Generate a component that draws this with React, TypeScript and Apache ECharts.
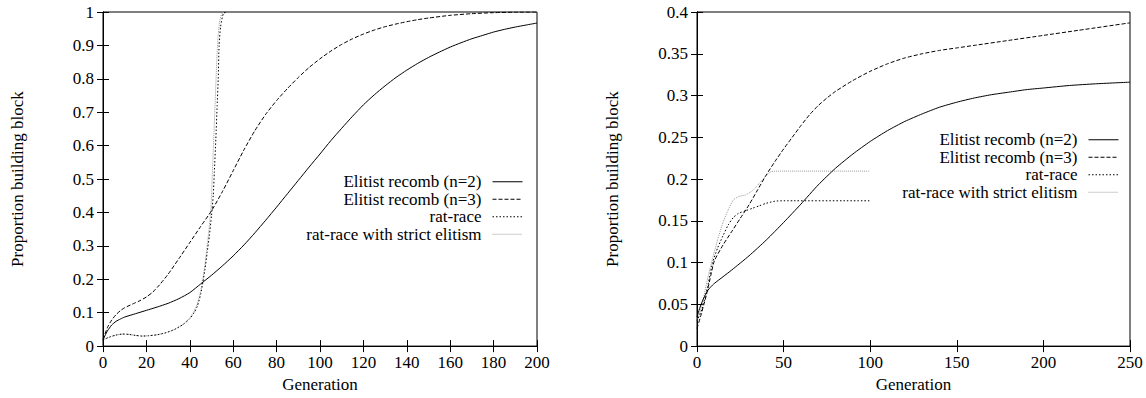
import React, { useEffect, useRef } from "react";
import * as echarts from "echarts";

type Pt = [number, number];

const seriesNames = [
  "Elitist recomb (n=2)",
  "Elitist recomb (n=3)",
  "rat-race",
  "rat-race with strict elitism",
];

const xTitle = "Generation";
const yTitle = "Proportion building block";

// Left panel axes
const leftXMax = 200;
const leftXStep = 20;
const leftYMax = 1;
const leftYStep = 0.1;

// Right panel axes
const rightXMax = 250;
const rightXStep = 50;
const rightYMax = 0.4;
const rightYStep = 0.05;

// Left panel data
const leftN2: Pt[] = [
  [0, 0.019], [2, 0.045], [4, 0.063], [6, 0.074], [8, 0.081], [10, 0.087],
  [15, 0.097], [20, 0.107], [25, 0.117], [30, 0.128], [35, 0.142], [40, 0.16],
  [45, 0.186], [50, 0.212], [55, 0.24], [60, 0.27], [65, 0.303], [70, 0.339],
  [75, 0.377], [80, 0.416], [85, 0.456], [90, 0.496], [95, 0.536], [100, 0.575],
  [105, 0.615], [110, 0.652], [115, 0.688], [120, 0.722], [125, 0.752],
  [130, 0.779], [135, 0.804], [140, 0.826], [145, 0.846], [150, 0.864],
  [155, 0.88], [160, 0.895], [165, 0.908], [170, 0.92], [175, 0.93],
  [180, 0.94], [185, 0.948], [190, 0.955], [195, 0.961], [200, 0.967],
];
const leftN3: Pt[] = [
  [0, 0.019], [2, 0.055], [4, 0.078], [6, 0.094], [8, 0.106], [10, 0.115],
  [14, 0.127], [17, 0.136], [20, 0.147], [23, 0.162], [26, 0.183], [30, 0.215],
  [35, 0.262], [40, 0.31], [45, 0.358], [50, 0.405], [55, 0.462], [60, 0.525],
  [65, 0.588], [70, 0.645], [75, 0.694], [80, 0.735], [85, 0.771], [90, 0.804],
  [95, 0.834], [100, 0.86], [105, 0.883], [110, 0.903], [115, 0.92],
  [120, 0.934], [125, 0.946], [130, 0.956], [135, 0.964], [140, 0.971],
  [145, 0.977], [150, 0.982], [160, 0.99], [170, 0.995], [180, 0.998],
  [190, 0.9995], [200, 1.0],
];
const leftRat: Pt[] = [
  [0, 0.019], [3, 0.027], [6, 0.033], [9, 0.036], [12, 0.035], [15, 0.032],
  [18, 0.03], [21, 0.031], [25, 0.034], [29, 0.04], [33, 0.05], [37, 0.065],
  [40, 0.082], [42, 0.1], [43.5, 0.12], [45, 0.155], [46, 0.19], [47, 0.23],
  [48, 0.28], [49, 0.33], [50, 0.39], [50.8, 0.45], [51.3, 0.52], [52, 0.62],
  [52.6, 0.72], [53.1, 0.8], [53.5, 0.9], [54.2, 0.957], [55.5, 0.996], [57, 1],
];
const leftStrict: Pt[] = [
  [0, 0.019], [3, 0.027], [6, 0.033], [9, 0.036], [12, 0.035], [15, 0.032],
  [18, 0.03], [21, 0.031], [25, 0.034], [29, 0.04], [33, 0.05], [37, 0.066],
  [40, 0.085], [42, 0.105], [43.5, 0.128], [45, 0.165], [46, 0.2], [47, 0.245],
  [48, 0.3], [49, 0.36], [49.8, 0.42], [50.3, 0.5], [50.9, 0.6], [51.5, 0.7],
  [52.1, 0.8], [52.6, 0.88], [53.2, 0.94], [54, 0.98], [55, 0.997], [56.5, 1],
];

// Right panel data
const rightN2: Pt[] = [
  [0, 0.035], [2, 0.048], [4, 0.058], [6, 0.066], [8, 0.071], [10, 0.075],
  [15, 0.083], [20, 0.091], [30, 0.108], [40, 0.127], [50, 0.148], [60, 0.17],
  [70, 0.193], [80, 0.213], [90, 0.23], [100, 0.245], [110, 0.258],
  [120, 0.269], [130, 0.278], [140, 0.286], [150, 0.292], [160, 0.297],
  [170, 0.301], [180, 0.304], [190, 0.307], [200, 0.309], [215, 0.312],
  [230, 0.314], [250, 0.316],
];
const rightN3: Pt[] = [
  [0, 0.021], [2, 0.035], [4, 0.05], [6, 0.066], [8, 0.085], [10, 0.102],
  [15, 0.121], [20, 0.137], [25, 0.153], [30, 0.169], [35, 0.187], [40, 0.205],
  [45, 0.221], [50, 0.236], [55, 0.25], [60, 0.264], [65, 0.277], [70, 0.288],
  [75, 0.297], [80, 0.305], [90, 0.318], [100, 0.329], [110, 0.338],
  [120, 0.345], [130, 0.35], [140, 0.354], [150, 0.357], [160, 0.36],
  [180, 0.366], [200, 0.372], [220, 0.378], [250, 0.387],
];
const rightRat: Pt[] = [
  [0, 0.03], [3, 0.045], [6, 0.07], [9, 0.1], [12, 0.118], [15, 0.132],
  [18, 0.145], [21, 0.154], [24, 0.159], [28, 0.162], [32, 0.165], [36, 0.168],
  [40, 0.171], [45, 0.1735], [50, 0.174], [100, 0.174],
];
const rightStrict: Pt[] = [
  [0, 0.03], [3, 0.05], [6, 0.08], [9, 0.105], [12, 0.128], [15, 0.148],
  [18, 0.163], [21, 0.175], [24, 0.179], [28, 0.181], [32, 0.186], [36, 0.195],
  [40, 0.204], [43, 0.209], [50, 0.2095], [100, 0.2095],
];

const FONT = "'Liberation Serif'";
const FS = 17;

const lineStyles: any[] = [
  { color: "#000", width: 1, type: "solid" },
  { color: "#000", width: 1, type: [4, 2] },
  { color: "#000", width: 1, type: [1.5, 2] },
  { color: "#9a9a9a", width: 1, type: [1, 1] },
];

export default function App() {
  const ref = useRef<HTMLDivElement>(null);
  useEffect(() => {
    if (!ref.current) return;
    const chart = echarts.init(ref.current, undefined, { renderer: "svg" });

    const labelStyle = { color: "#000", fontFamily: FONT, fontSize: FS };
    const mkX = (grid: number, max: number, step: number, top: boolean): any => ({
      type: "value",
      gridIndex: grid,
      position: top ? "top" : "bottom",
      min: 0,
      max,
      interval: step,
      name: top ? "" : xTitle,
      nameLocation: "middle",
      nameGap: 26,
      nameTextStyle: labelStyle,
      axisLine: { show: true, lineStyle: { color: "#000", width: 1 } },
      axisTick: { show: true, inside: true, length: 6, lineStyle: { color: "#000" } },
      axisLabel: { show: !top, margin: 8, ...labelStyle },
      splitLine: { show: false },
    });
    const mkY = (grid: number, max: number, step: number, right: boolean, gap: number): any => ({
      type: "value",
      gridIndex: grid,
      position: right ? "right" : "left",
      min: 0,
      max,
      interval: step,
      name: right ? "" : yTitle,
      nameLocation: "middle",
      nameRotate: 90,
      nameGap: gap,
      nameTextStyle: labelStyle,
      axisLine: { show: true, lineStyle: { color: "#000", width: 1 } },
      axisTick: { show: true, inside: true, length: 6, lineStyle: { color: "#000" } },
      axisLabel: { show: !right, margin: 9, ...labelStyle },
      splitLine: { show: false },
    });

    const mkSeries = (name: string, data: Pt[], idx: number, panel: number): any => ({
      type: "line",
      name,
      data,
      xAxisIndex: panel * 2,
      yAxisIndex: panel * 2,
      symbol: "none",
      showSymbol: false,
      smooth: 0.2,
      lineStyle: lineStyles[idx],
      itemStyle: { color: lineStyles[idx].color },
      z: 10 - idx,
    });

    const mkLegend = (right: number, top: number): any => ({
      orient: "vertical",
      align: "right",
      right,
      top,
      padding: 0,
      itemGap: 0,
      itemWidth: 30,
      itemHeight: 10,
      selectedMode: false,
      data: seriesNames,
      itemStyle: { opacity: 0, color: "transparent", borderColor: "transparent", borderWidth: 0 },
      lineStyle: { width: 1 },
      textStyle: {
        color: "#000",
        fontFamily: FONT,
        fontSize: FS,
        lineHeight: 17.5,
        padding: [0, 6, 0, 0],
      },
    });

    chart.setOption({
      animation: false,
      backgroundColor: "#fff",
      textStyle: { fontFamily: FONT },
      grid: [
        { left: 103, top: 12, width: 434, height: 341, show: true, borderColor: "#000", borderWidth: 1 },
        { left: 697, top: 12, width: 433, height: 341, show: true, borderColor: "#000", borderWidth: 1 },
      ],
      xAxis: [
        mkX(0, leftXMax, leftXStep, false),
        mkX(0, leftXMax, leftXStep, true),
        mkX(1, rightXMax, rightXStep, false),
        mkX(1, rightXMax, rightXStep, true),
      ],
      yAxis: [
        mkY(0, leftYMax, leftYStep, false, 77),
        mkY(0, leftYMax, leftYStep, true, 0),
        mkY(1, rightYMax, rightYStep, false, 76),
        mkY(1, rightYMax, rightYStep, true, 0),
      ],
      legend: [mkLegend(1146 - 523, 173), mkLegend(1146 - 1119, 131)],
      series: [
        mkSeries(seriesNames[0], leftN2, 0, 0),
        mkSeries(seriesNames[1], leftN3, 1, 0),
        mkSeries(seriesNames[2], leftRat, 2, 0),
        mkSeries(seriesNames[3], leftStrict, 3, 0),
        mkSeries(seriesNames[0], rightN2, 0, 1),
        mkSeries(seriesNames[1], rightN3, 1, 1),
        mkSeries(seriesNames[2], rightRat, 2, 1),
        mkSeries(seriesNames[3], rightStrict, 3, 1),
      ],
    });
    return () => chart.dispose();
  }, []);

  return (
    <div
      ref={ref}
      style={{ position: "absolute", left: 0, top: 0, width: 1146, height: 398, background: "#fff" }}
    />
  );
}
